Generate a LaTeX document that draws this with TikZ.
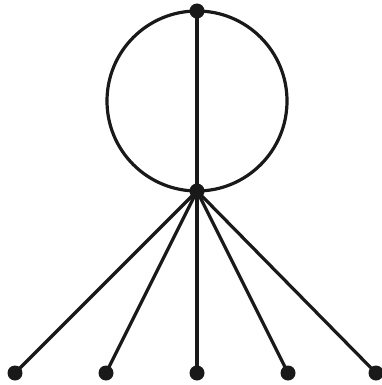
\documentclass[tikz,border=0pt]{standalone}
\begin{document}
\begin{tikzpicture}[x=1pt,y=-1pt,
  dot/.style={circle,fill=black!90,inner sep=0pt,minimum size=15pt},
  edge/.style={line width=3.2pt,draw=black!90}]
\useasboundingbox (0,0) rectangle (382,385);
\draw[edge] (197,101) circle (90);
\node[dot] (t) at (197,11) {};
\node[dot] (c) at (197,191) {};
\node[dot] (b1) at (15,373) {};
\node[dot] (b2) at (106,373) {};
\node[dot] (b3) at (197,373) {};
\node[dot] (b4) at (288,373) {};
\node[dot] (b5) at (376,373) {};
\draw[edge] (t.center) -- (c.center);
\foreach \b in {b1,b2,b3,b4,b5} \draw[edge] (c.center) -- (\b.center);
\end{tikzpicture}
\end{document}
